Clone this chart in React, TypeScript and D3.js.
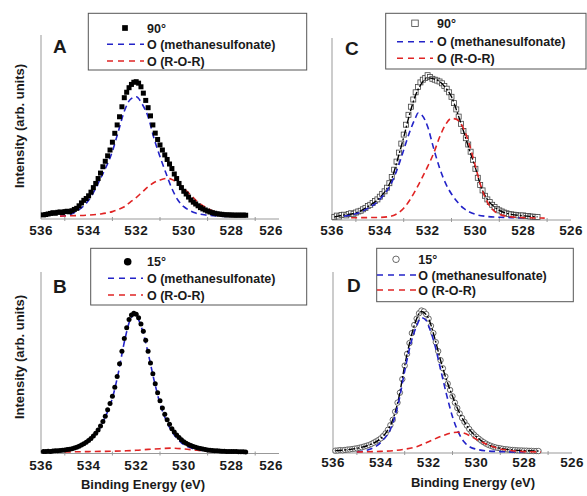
import * as d3 from "d3";

type Pt = [number, number];

// binding energy grid of the measured points (eV)
const energyGrid = [
  535.9, 535.8, 535.7, 535.6, 535.5, 535.4, 535.3, 535.2, 535.1, 535.0,
  534.9, 534.8, 534.7, 534.6, 534.5, 534.4, 534.3, 534.2, 534.1, 534.0,
  533.9, 533.8, 533.7, 533.6, 533.5, 533.4, 533.3, 533.2, 533.1, 533.0,
  532.9, 532.8, 532.7, 532.6, 532.5, 532.4, 532.3, 532.2, 532.1, 532.0,
  531.9, 531.8, 531.7, 531.6, 531.5, 531.4, 531.3, 531.2, 531.1, 531.0,
  530.9, 530.8, 530.7, 530.6, 530.5, 530.4, 530.3, 530.2, 530.1, 530.0,
  529.9, 529.8, 529.7, 529.6, 529.5, 529.4, 529.3, 529.2, 529.1, 529.0,
  528.9, 528.8, 528.7, 528.6, 528.5, 528.4, 528.3, 528.2, 528.1, 528.0,
  527.9, 527.8, 527.7, 527.6, 527.5, 527.4,
];

// intensities (arb. units, 0-100 of the axis height)
const pointsA = [
  1.0, 1.2, 1.5, 1.8, 2.2, 1.9, 2.4, 2.6, 2.3, 2.8,
  3.0, 2.7, 3.3, 4.0, 4.6, 6.0, 7.6, 9.0, 10.0, 11.5,
  13.5, 16.0, 18.3, 21.0, 24.0, 27.5, 30.5, 33.5, 36.7, 41.0,
  45.9, 50.5, 55.0, 60.5, 65.5, 68.5, 71.0, 72.8, 74.0, 74.3,
  73.5, 71.5, 68.0, 64.0, 60.0, 55.5, 50.5, 46.0, 42.5, 39.5,
  36.7, 34.0, 31.5, 29.0, 26.5, 23.5, 21.0, 18.3, 16.0, 14.0,
  12.5, 10.8, 9.2, 8.0, 7.0, 6.0, 5.0, 4.3, 3.7, 3.1,
  2.6, 2.2, 1.9, 1.6, 1.4, 1.3, 1.1, 1.0, 1.0, 0.9,
  0.9, 0.8, 0.9, 0.8, 0.9, 0.8,
];
const pointsB = [
  0.5, 0.4, 0.6, 0.5, 0.7, 0.8, 0.9, 1.0, 1.1, 1.3,
  1.5, 1.7, 2.0, 2.4, 2.8, 3.4, 4.0, 4.8, 5.5, 6.5,
  7.6, 9.0, 10.5, 12.3, 14.5, 17.0, 20.0, 23.5, 27.0, 31.0,
  36.0, 42.0, 49.0, 56.0, 63.0, 69.0, 73.5, 76.0, 77.0, 76.5,
  74.5, 71.0, 67.0, 62.0, 56.0, 49.5, 43.5, 38.0, 33.0, 28.5,
  24.5, 21.0, 18.0, 15.5, 13.0, 11.2, 9.6, 8.2, 7.0, 5.9,
  5.0, 4.3, 3.7, 3.2, 2.8, 2.4, 2.1, 1.8, 1.5, 1.3,
  1.1, 1.0, 0.9, 0.8, 0.7, 0.6, 0.6, 0.5, 0.5, 0.4,
  0.4, 0.4, 0.3, 0.3, 0.3, 0.2,
];
const pointsC = [
  0.8, 1.5, 1.0, 1.8, 2.0, 1.6, 2.4, 2.8, 2.5, 3.2,
  3.8, 4.2, 5.0, 5.8, 6.8, 7.5, 8.5, 9.6, 10.5, 12.0,
  13.5, 15.0, 17.0, 19.5, 23.0, 27.0, 31.5, 36.5, 41.5, 46.5,
  52.0, 57.5, 62.0, 66.0, 70.0, 73.0, 75.5, 77.0, 78.0, 79.5,
  78.5, 77.5, 77.0, 76.5, 76.0, 75.0, 73.5, 72.0, 70.0, 67.5,
  64.0, 60.5, 56.5, 52.5, 48.5, 44.5, 41.0, 37.0, 32.5, 27.5,
  22.5, 18.5, 15.5, 12.5, 10.5, 9.0, 7.5, 6.3, 5.2, 4.4,
  3.8, 3.2, 2.8, 2.4, 2.2, 2.0, 1.8, 1.6, 1.5, 1.6,
  1.2, 1.3, 1.0, 0.9, 0.8, 0.7,
];
const pointsD = [
  0.9, 1.0, 1.2, 1.1, 1.3, 1.5, 1.6, 1.8, 2.0, 2.2,
  2.5, 2.8, 3.2, 3.6, 4.0, 4.6, 5.3, 6.0, 6.8, 7.7,
  9.0, 10.5, 12.5, 15.0, 18.0, 22.5, 27.5, 33.0, 40.5, 48.0,
  54.5, 60.5, 66.0, 70.5, 74.0, 77.0, 78.5, 78.0, 76.5, 74.0,
  70.0, 66.0, 61.0, 56.0, 51.0, 46.5, 42.0, 38.0, 34.5, 31.0,
  27.5, 24.5, 21.5, 19.0, 16.8, 14.8, 12.9, 11.2, 9.8, 8.6,
  7.5, 6.5, 5.6, 4.8, 4.1, 3.6, 3.1, 2.7, 2.4, 2.2,
  1.9, 1.7, 1.6, 1.4, 1.3, 1.2, 1.1, 1.0, 1.0, 0.9,
  0.9, 0.8, 0.8, 0.7, 0.7, 0.7,
];

// fitted components [energy, intensity]
const sulfonateA: Pt[] = [[535.2, 0.3], [535, 0.5], [534.5, 3], [534, 9], [533.5, 21], [533, 36], [532.75, 47], [532.5, 58], [532.25, 64.5], [532, 66], [531.75, 62], [531.5, 55], [531.25, 43], [531, 33], [530.75, 24], [530.5, 15.5], [530.25, 9.2], [530, 5.5], [529.75, 3.4], [529.5, 2], [529, 0.8], [528.5, 0.3], [528, 0.1]];
const etherA: Pt[] = [[535.2, 0.3], [535, 0.4], [534.5, 0.6], [534, 0.9], [533.5, 1.5], [533, 2.8], [532.75, 4], [532.5, 5.5], [532.25, 8], [532, 10.5], [531.75, 13.5], [531.5, 16.5], [531.25, 18.8], [531, 20.2], [530.7, 21.1], [530.5, 20.5], [530.25, 18.5], [530, 15.6], [529.75, 12.5], [529.5, 9.2], [529.25, 6.5], [529, 4.6], [528.5, 1.8], [528, 0.9], [527.4, 0.5]];

const sulfonateB: Pt[] = [[535.5, 0.5], [535, 1.1], [534.5, 2.6], [534, 6.2], [533.5, 14], [533.25, 21], [533, 30], [532.75, 44], [532.5, 61], [532.25, 73.5], [532.1, 76], [532, 75.5], [531.75, 68], [531.5, 55], [531.25, 40], [531, 27], [530.75, 18], [530.5, 11.5], [530.25, 7.2], [530, 4.3], [529.75, 2.6], [529.5, 1.6], [529, 0.7], [528.5, 0.3], [528, 0.1]];
const etherB: Pt[] = [[535, 0.2], [534.5, 0.3], [534, 0.4], [533.5, 0.5], [533, 0.6], [532.5, 0.8], [532, 1.1], [531.5, 1.6], [531, 2.0], [530.5, 2.3], [530, 1.9], [529.5, 1.2], [529, 0.6], [528.5, 0.3], [528, 0.2], [527.3, 0.1]];

const sulfonateC: Pt[] = [[535.5, 1.2], [535, 2.5], [534.5, 5.5], [534, 10.5], [533.5, 20], [533.25, 28], [533, 38], [532.75, 48], [532.5, 56], [532.4, 58.5], [532.25, 57.5], [532, 51], [531.75, 39], [531.5, 28], [531.25, 19.5], [531, 13.5], [530.75, 9], [530.5, 5.6], [530.25, 3.5], [530, 2.2], [529.5, 1.0], [529, 0.6], [528.5, 0.4], [528, 0.3]];
const etherC: Pt[] = [[535.2, 0.3], [534.5, 0.4], [534, 0.5], [533.5, 1.3], [533.25, 2.8], [533, 5.6], [532.75, 10], [532.5, 15.7], [532.25, 22], [532, 28.7], [531.75, 36], [531.5, 45], [531.25, 52], [531, 55.5], [530.8, 55], [530.5, 50], [530.25, 41], [530, 29], [529.75, 17], [529.5, 9], [529.25, 4.5], [529, 2.2], [528.5, 0.8], [528, 0.4], [527.5, 0.2], [527.1, 0.1]];
const envelopeC: Pt[] = [[535.9, 0.8], [535.5, 1.8], [535, 3], [534.5, 6.5], [534, 11.5], [533.75, 15.5], [533.5, 22], [533.25, 33], [533, 45], [532.75, 58], [532.5, 68.5], [532.25, 75], [532, 78], [531.75, 77.5], [531.5, 76], [531.25, 72.5], [531, 67.5], [530.75, 58.5], [530.5, 48.5], [530.25, 38], [530, 28], [529.75, 17], [529.5, 10.5], [529.25, 6.8], [529, 4.4], [528.5, 2.2], [528, 1.4], [527.4, 0.8]];

const sulfonateD: Pt[] = [[535, 0.2], [534.5, 1.5], [534, 5.5], [533.5, 16], [533.25, 28], [533, 45], [532.75, 60], [532.5, 70], [532.3, 74.5], [532.1, 73], [532, 70], [531.75, 60], [531.5, 46], [531.25, 32], [531, 19.7], [530.75, 11], [530.5, 5.5], [530.25, 2.8], [530, 1.7], [529.5, 0.7], [529, 0.4], [528.5, 0.2], [528, 0.2]];
const etherD: Pt[] = [[535, 0.2], [534.5, 0.3], [534, 0.5], [533.5, 0.9], [533, 1.7], [532.5, 3.1], [532, 5.9], [531.5, 8.7], [531, 10.9], [530.8, 11.1], [530.5, 10.5], [530.25, 9], [530, 7.2], [529.5, 4], [529, 1.8], [528.5, 0.9], [528, 0.4], [527.3, 0.2]];
const envelopeD: Pt[] = [[535.9, 0.9], [535.5, 1.3], [535, 2.2], [534.5, 4], [534, 7.7], [533.75, 11.5], [533.5, 18], [533.25, 30], [533, 48], [532.75, 63], [532.5, 74], [532.3, 78], [532, 74], [531.75, 63.5], [531.5, 51], [531.25, 40], [531, 31], [530.75, 23], [530.5, 16.8], [530.25, 12], [530, 8.6], [529.5, 4.1], [529, 2.2], [528.5, 1.3], [528, 0.9], [527.4, 0.7]];

const legendLabels = ["O (methanesulfonate)", "O (R-O-R)"];
const FONT = "'Liberation Sans', Arial, sans-serif";
const INK = "#1a1a1a";
const BLUE = "#2323c8";
const RED = "#e02424";

type MarkerKind = "square" | "circle" | "openSquare" | "openCircle";

function Marker({ kind, cx, cy, s }: { kind: MarkerKind; cx: number; cy: number; s: number }) {
  if (kind === "square") return <rect x={cx - s / 2} y={cy - s / 2} width={s} height={s} fill="#000" />;
  if (kind === "circle") return <circle cx={cx} cy={cy} r={s / 2} fill="#000" />;
  if (kind === "openSquare")
    return <rect x={cx - s / 2} y={cy - s / 2} width={s} height={s} fill="#fff" stroke="#444" strokeWidth={0.8} />;
  return <circle cx={cx} cy={cy} r={s / 2} fill="#fff" stroke="#444" strokeWidth={0.8} />;
}

function Legend(p: {
  box: [number, number, number, number];
  kind: MarkerKind;
  angle: string;
  mx: number;
  rows: number[];
  lx: [number, number];
  tx: number;
  ms: number;
}) {
  const [bx, by, bw, bh] = p.box;
  return (
    <g fontFamily={FONT} fontWeight="bold" fontSize={12.5} fill={INK}>
      <rect x={bx} y={by} width={bw} height={bh} fill="#fff" stroke="#555" strokeWidth={1} />
      <Marker kind={p.kind} cx={p.mx} cy={p.rows[0]} s={p.ms} />
      <text x={p.tx} y={p.rows[0] + 4.5}>{p.angle}</text>
      {[BLUE, RED].map((c, i) => (
        <g key={c}>
          <line x1={p.lx[0]} x2={p.lx[1]} y1={p.rows[i + 1]} y2={p.rows[i + 1]} stroke={c} strokeWidth={1.6} strokeDasharray="6,5" />
          <text x={p.tx} y={p.rows[i + 1] + 4.5}>{legendLabels[i]}</text>
        </g>
      ))}
    </g>
  );
}

function Panel(p: {
  letter: string;
  letterPos: [number, number];
  xr: [number, number];
  yr: [number, number];
  axisY: number;
  axisTop: number;
  tickY: number;
  lastLabelX?: number;
  points: number[];
  kind: MarkerKind;
  ms: number;
  blue: Pt[];
  red: Pt[];
  envelope?: Pt[];
  fitsOnTop?: boolean;
  yTitle?: [number, number];
  xTitle?: [number, number];
}) {
  const x = d3.scaleLinear().domain([536, 526]).range(p.xr);
  const y = d3.scaleLinear().domain([0, 100]).range(p.yr);
  const line = d3.line<Pt>().x((d) => x(d[0])).y((d) => y(d[1])).curve(d3.curveMonotoneX);
  const major = x.ticks(5);
  const minor = x.ticks(10).filter((t) => Math.abs(t % 2) === 1);
  const x0 = p.xr[0];

  const fits = (
    <g>
      <path d={line(p.blue) ?? ""} fill="none" stroke={BLUE} strokeWidth={1.6} strokeDasharray="6,4" />
      <path d={line(p.red) ?? ""} fill="none" stroke={RED} strokeWidth={1.6} strokeDasharray="6,4" />
    </g>
  );

  return (
    <g>
      <line x1={x0} x2={x0} y1={p.axisTop} y2={p.axisY} stroke="#999" />
      <line x1={x0} x2={x(526)} y1={p.axisY} y2={p.axisY} stroke="#999" />
      {minor.map((t) => (
        <line key={t} x1={x(t)} x2={x(t)} y1={p.axisY - 2} y2={p.axisY + 2} stroke="#999" />
      ))}
      <g fontFamily={FONT} fontWeight="bold" fontSize={13.5} letterSpacing={0.4} fill={INK} textAnchor="middle">
        {major.map((t) => (
          <text key={t} x={t === 526 && p.lastLabelX ? p.lastLabelX : x(t)} y={p.tickY}>
            {t}
          </text>
        ))}
      </g>

      {!p.fitsOnTop && fits}
      {energyGrid.map((e, i) => (
        <Marker key={e} kind={p.kind} cx={x(e)} cy={y(p.points[i])} s={p.ms} />
      ))}
      {p.envelope && (
        <path d={line(p.envelope) ?? ""} fill="none" stroke="#000" strokeWidth={1.4} strokeDasharray="7,2,2,2" />
      )}
      {p.fitsOnTop && fits}

      <text x={p.letterPos[0]} y={p.letterPos[1]} fontFamily={FONT} fontWeight="bold" fontSize={19} fill={INK}>
        {p.letter}
      </text>
      {p.yTitle && (
        <text
          transform={`translate(${p.yTitle[0]},${p.yTitle[1]}) rotate(-90)`}
          textAnchor="middle"
          fontFamily={FONT}
          fontWeight="bold"
          fontSize={13}
          fill={INK}
        >
          Intensity (arb. units)
        </text>
      )}
      {p.xTitle && (
        <text x={p.xTitle[0]} y={p.xTitle[1]} textAnchor="middle" fontFamily={FONT} fontWeight="bold" fontSize={13} fill={INK}>
          Binding Energy (eV)
        </text>
      )}
    </g>
  );
}

export default function App() {
  return (
    <svg width={587} height={496} style={{ position: "absolute", left: 0, top: 0, background: "#fff" }}>
      <Panel
        letter="A" letterPos={[53, 53]} xr={[41, 279]} yr={[216.7, 35]} axisY={219} axisTop={35} tickY={235}
        lastLabelX={271} points={pointsA} kind="square" ms={5} blue={sulfonateA} red={etherA} yTitle={[23.5, 126]}
      />
      <Panel
        letter="C" letterPos={[345, 55]} xr={[332, 571]} yr={[218.3, 38.3]} axisY={220} axisTop={38} tickY={235}
        points={pointsC} kind="openSquare" ms={5} blue={sulfonateC} red={etherC} envelope={envelopeC} fitsOnTop
      />
      <Panel
        letter="B" letterPos={[53, 293]} xr={[41, 279]} yr={[452.3, 271.7]} axisY={453.5} axisTop={272} tickY={470}
        lastLabelX={271} points={pointsB} kind="circle" ms={5} blue={sulfonateB} red={etherB} yTitle={[23.5, 357]}
        xTitle={[143, 489]}
      />
      <Panel
        letter="D" letterPos={[347, 292]} xr={[333, 572]} yr={[452.3, 271.7]} axisY={453} axisTop={272} tickY={467}
        points={pointsD} kind="openCircle" ms={5.4} blue={sulfonateD} red={etherD} envelope={envelopeD} fitsOnTop
        xTitle={[473, 487]}
      />

      <Legend box={[88.3, 13.3, 218.4, 56.7]} kind="square" angle="90°" mx={125} rows={[28, 44.3, 61]} lx={[107, 144]} tx={147} ms={5.7} />
      <Legend box={[385.7, 13.3, 200.3, 55.7]} kind="openSquare" angle="90°" mx={415} rows={[23.3, 41.7, 58.3]} lx={[397, 433]} tx={437} ms={6.5} />
      <Legend box={[90.7, 248.3, 216, 56.7]} kind="circle" angle="15°" mx={127.7} rows={[261.7, 278.3, 295]} lx={[108, 143]} tx={147} ms={7.6} />
      <Legend box={[376.7, 248.3, 196.6, 53.4]} kind="openCircle" angle="15°" mx={396} rows={[259.3, 275, 290]} lx={[377, 416.7]} tx={418.3} ms={6.5} />
    </svg>
  );
}
